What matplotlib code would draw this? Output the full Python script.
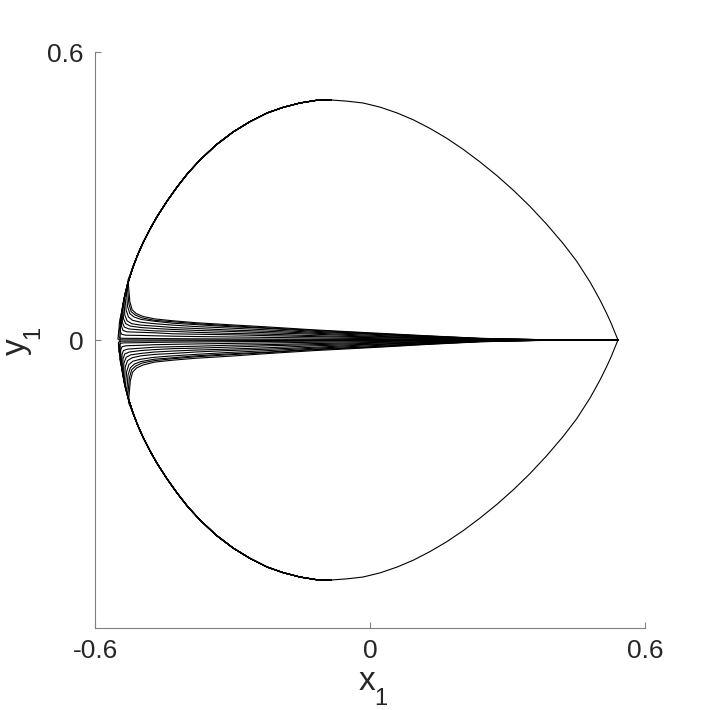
import matplotlib
matplotlib.use('Agg')
import matplotlib.pyplot as plt

plt.rcParams['font.family'] = ['Liberation Sans', 'DejaVu Sans']

# Outer loop, upper half (right tip -> top -> left end); lower half is its mirror image
LOOP_X = [0.5411, 0.5350, 0.5270, 0.5160, 0.5020, 0.4800, 0.4506, 0.4211, 0.3851, 0.3491,
          0.3131, 0.2771, 0.2400, 0.2029, 0.1669, 0.1309, 0.0949, 0.0589, 0.0218, -0.0153,
          -0.0513, -0.0851, -0.1178, -0.1527, -0.1898, -0.2247, -0.2618, -0.2989, -0.3360,
          -0.3709, -0.3971, -0.4211, -0.4429, -0.4648, -0.4800, -0.4953, -0.5062, -0.5171,
          -0.5280, -0.5357, -0.5411, -0.5444, -0.5455]
LOOP_Y = [0.0000, 0.0140, 0.0330, 0.0560, 0.0830, 0.1210, 0.1646, 0.2013, 0.2415, 0.2783,
          0.3117, 0.3423, 0.3710, 0.3975, 0.4206, 0.4408, 0.4585, 0.4731, 0.4852, 0.4938,
          0.4977, 0.5000, 0.4992, 0.4938, 0.4846, 0.4729, 0.4550, 0.4333, 0.4063,
          0.3750, 0.3479, 0.3185, 0.2892, 0.2567, 0.2310, 0.2023, 0.1790, 0.1521,
          0.1194, 0.0896, 0.0596, 0.0298, 0.0000]

# Inner trajectories: bend ("head") points and tail values on a shared x grid
TAIL_X = [-0.47, -0.43, -0.38, -0.31, -0.22, -0.12, 0.00, 0.12, 0.24, 0.36, 0.46, 0.541]

UPPER_HEADS = [
    [(-0.528, 0.125), (-0.524, 0.080), (-0.519, 0.063), (-0.510, 0.055), (-0.495, 0.049)],
    [(-0.530, 0.115), (-0.526, 0.075), (-0.521, 0.059), (-0.512, 0.052), (-0.497, 0.046)],
    [(-0.532, 0.105), (-0.529, 0.070), (-0.524, 0.055), (-0.515, 0.048), (-0.500, 0.043)],
    [(-0.535, 0.095), (-0.532, 0.062), (-0.527, 0.048), (-0.518, 0.041), (-0.500, 0.037)],
    [(-0.537, 0.085), (-0.535, 0.052), (-0.530, 0.040), (-0.520, 0.034), (-0.500, 0.031)],
    [(-0.539, 0.075), (-0.538, 0.045), (-0.533, 0.034), (-0.523, 0.029), (-0.500, 0.026)],
    [(-0.541, 0.065), (-0.540, 0.036), (-0.536, 0.027), (-0.526, 0.023), (-0.500, 0.021)],
    [(-0.543, 0.055), (-0.542, 0.028), (-0.539, 0.020), (-0.530, 0.017), (-0.500, 0.016)],
    [(-0.545, 0.045), (-0.545, 0.018), (-0.542, 0.012), (-0.533, 0.010), (-0.500, 0.0095)],
    [(-0.547, 0.035), (-0.548, 0.008), (-0.546, 0.004), (-0.538, 0.0035), (-0.500, 0.0033)],
    [(-0.548, 0.020), (-0.550, 0.002), (-0.548, 0.0005), (-0.540, 0.0003), (-0.500, 0.0002)],
]
UPPER_TAILS = [
    [0.044, 0.040, 0.036, 0.032, 0.027, 0.021, 0.015, 0.009, 0.0035, 0.0010, 0.0003, 0.0],
    [0.041, 0.038, 0.034, 0.030, 0.025, 0.020, 0.014, 0.0085, 0.0033, 0.0009, 0.0003, 0.0],
    [0.039, 0.035, 0.032, 0.028, 0.024, 0.018, 0.013, 0.008, 0.0031, 0.0009, 0.0003, 0.0],
    [0.034, 0.031, 0.028, 0.025, 0.021, 0.016, 0.012, 0.007, 0.0027, 0.0008, 0.0002, 0.0],
    [0.029, 0.026, 0.024, 0.021, 0.018, 0.014, 0.010, 0.006, 0.0023, 0.0007, 0.0002, 0.0],
    [0.024, 0.022, 0.020, 0.018, 0.015, 0.012, 0.008, 0.005, 0.0019, 0.0006, 0.0002, 0.0],
    [0.019, 0.018, 0.016, 0.014, 0.012, 0.009, 0.0066, 0.004, 0.0015, 0.0004, 0.0001, 0.0],
    [0.015, 0.013, 0.012, 0.011, 0.009, 0.007, 0.005, 0.003, 0.0012, 0.0003, 0.0001, 0.0],
    [0.0088, 0.008, 0.0072, 0.0064, 0.0054, 0.0042, 0.003, 0.0018, 0.0007, 0.0002, 0.0001, 0.0],
    [0.0031, 0.0028, 0.0025, 0.0022, 0.0019, 0.0015, 0.0011, 0.0006, 0.0002, 0.0001, 0.0, 0.0],
    [0.0002, 0.0002, 0.0001, 0.0001, 0.0001, 0.0, 0.0, 0.0, 0.0, 0.0, 0.0, 0.0],
]

LOWER_HEADS = [
    [(-0.527, -0.130), (-0.523, -0.085), (-0.518, -0.067), (-0.509, -0.058), (-0.495, -0.052)],
    [(-0.529, -0.120), (-0.525, -0.079), (-0.520, -0.062), (-0.511, -0.054), (-0.497, -0.048)],
    [(-0.531, -0.110), (-0.528, -0.073), (-0.523, -0.058), (-0.514, -0.050), (-0.500, -0.045)],
    [(-0.534, -0.100), (-0.531, -0.066), (-0.526, -0.051), (-0.517, -0.044), (-0.500, -0.040)],
    [(-0.536, -0.090), (-0.534, -0.056), (-0.529, -0.043), (-0.519, -0.037), (-0.500, -0.033)],
    [(-0.538, -0.080), (-0.537, -0.048), (-0.532, -0.036), (-0.522, -0.031), (-0.500, -0.028)],
    [(-0.540, -0.070), (-0.539, -0.039), (-0.535, -0.029), (-0.525, -0.025), (-0.500, -0.022)],
    [(-0.542, -0.060), (-0.541, -0.030), (-0.538, -0.022), (-0.529, -0.019), (-0.500, -0.017)],
    [(-0.544, -0.050), (-0.544, -0.021), (-0.541, -0.014), (-0.532, -0.012), (-0.500, -0.011)],
    [(-0.546, -0.040), (-0.547, -0.012), (-0.545, -0.007), (-0.537, -0.006), (-0.500, -0.0055)],
    [(-0.548, -0.025), (-0.549, -0.006), (-0.547, -0.003), (-0.539, -0.0025), (-0.500, -0.0022)],
]
LOWER_TAILS = [
    [-0.046, -0.042, -0.038, -0.034, -0.028, -0.022, -0.016, -0.0095, -0.0037, -0.0011, -0.0003, 0.0],
    [-0.043, -0.039, -0.035, -0.031, -0.026, -0.020, -0.015, -0.0088, -0.0034, -0.0010, -0.0003, 0.0],
    [-0.040, -0.037, -0.033, -0.029, -0.025, -0.019, -0.014, -0.0082, -0.0032, -0.0009, -0.0003, 0.0],
    [-0.036, -0.033, -0.030, -0.026, -0.022, -0.017, -0.012, -0.0074, -0.0029, -0.0008, -0.0002, 0.0],
    [-0.030, -0.028, -0.025, -0.022, -0.019, -0.015, -0.010, -0.0063, -0.0024, -0.0007, -0.0002, 0.0],
    [-0.025, -0.023, -0.021, -0.019, -0.016, -0.012, -0.0088, -0.0053, -0.0020, -0.0006, -0.0002, 0.0],
    [-0.020, -0.018, -0.017, -0.015, -0.012, -0.0097, -0.0070, -0.0042, -0.0016, -0.0005, -0.0001, 0.0],
    [-0.015, -0.014, -0.013, -0.011, -0.0095, -0.0074, -0.0053, -0.0032, -0.0012, -0.0004, -0.0001, 0.0],
    [-0.0098, -0.009, -0.0082, -0.0072, -0.0061, -0.0047, -0.0034, -0.0020, -0.0008, -0.0002, -0.0001, 0.0],
    [-0.0049, -0.0045, -0.0041, -0.0036, -0.0030, -0.0024, -0.0017, -0.0010, -0.0004, -0.0001, 0.0, 0.0],
    [-0.0020, -0.0018, -0.0016, -0.0014, -0.0012, -0.0009, -0.0007, -0.0004, -0.0002, 0.0, 0.0, 0.0],
]

X_TICKS = [-0.6, 0.0, 0.6]
X_TICK_LABELS = ['-0.6', '0', '0.6']
Y_TICKS = [0.0, 0.6]
Y_TICK_LABELS = ['0', '0.6']

LINE_KW = dict(color='black', lw=0.8, solid_joinstyle='round', solid_capstyle='round')
AXIS_GREY = '#808080'
TEXT_COLOR = '#262626'

W = H = 710
fig = plt.figure(figsize=(W / 100, H / 100), dpi=100)
ax = fig.add_axes([95 / W, (H - 628) / H, 550 / W, 576 / H])

# outer loop (upper half and its mirror image)
ax.plot(LOOP_X, LOOP_Y, **LINE_KW)
ax.plot(LOOP_X, [-v for v in LOOP_Y], **LINE_KW)

top_idx = LOOP_Y.index(max(LOOP_Y))


def draw_family(heads, tails, sign):
    for head, tail in zip(heads, tails):
        peel = abs(head[0][1])
        pre = [(x, sign * y) for x, y in zip(LOOP_X[top_idx:], LOOP_Y[top_idx:]) if y > peel]
        xs = [p[0] for p in pre] + [h[0] for h in head] + TAIL_X
        ys = [p[1] for p in pre] + [h[1] for h in head] + list(tail)
        ax.plot(xs, ys, **LINE_KW)


draw_family(UPPER_HEADS, UPPER_TAILS, 1)
draw_family(LOWER_HEADS, LOWER_TAILS, -1)

ax.set_xlim(-0.6, 0.6)
ax.set_ylim(-0.6, 0.6)
ax.set_xticks(X_TICKS)
ax.set_xticklabels(X_TICK_LABELS)
ax.set_yticks(Y_TICKS)
ax.set_yticklabels(Y_TICK_LABELS)

for s in ('top', 'right'):
    ax.spines[s].set_visible(False)
for s in ('left', 'bottom'):
    ax.spines[s].set_color(AXIS_GREY)
    ax.spines[s].set_linewidth(0.8)

ax.tick_params(direction='in', length=4, width=0.8, color=AXIS_GREY,
               labelsize=19, labelcolor=TEXT_COLOR, pad=8)


def fig_text(px, py, s, size, **kw):
    fig.text(px / W, 1 - py / H, s, fontsize=size, color=TEXT_COLOR, **kw)


# axis labels: x_1 and y_1 with lowered subscripts
fig_text(367, 690, 'x', 24, ha='center', va='baseline')
fig_text(381, 705, '1', 17, ha='center', va='baseline')
fig_text(25, 347, 'y', 24, ha='center', va='baseline', rotation=90, rotation_mode='anchor')
fig_text(39, 332, '1', 17, ha='center', va='baseline', rotation=90, rotation_mode='anchor')

fig.savefig('out.png', dpi=100, facecolor='white')
